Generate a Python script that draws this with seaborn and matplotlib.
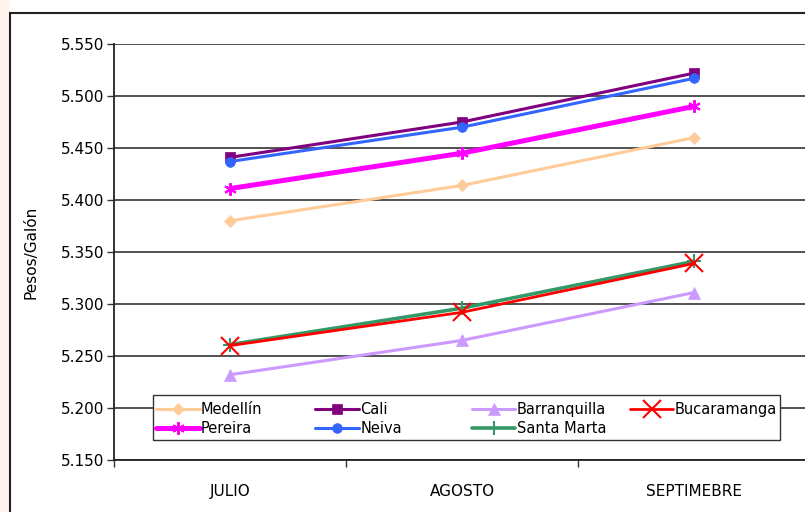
import matplotlib
matplotlib.use("Agg")
import matplotlib.pyplot as plt
import seaborn as sns
import pandas as pd
from matplotlib.ticker import FuncFormatter, MultipleLocator, FixedLocator
from matplotlib.patches import Rectangle
from matplotlib.legend import Legend

months = ["JULIO", "AGOSTO", "SEPTIMEBRE"]
medellin = [5380, 5414, 5460]
cali = [5441, 5475, 5522]
barranquilla = [5232, 5265, 5311]
bucaramanga = [5260, 5292, 5339]
pereira = [5411, 5445, 5490]
neiva = [5437, 5470, 5517]
santa_marta = [5261, 5296, 5341]

series = [
    ("Medellín", medellin, "#FFCC99", "D", 6, 2.2),
    ("Pereira", pereira, "#FF00FF", (6, 2, 0), 9, 3.6),
    ("Cali", cali, "#800080", "s", 7, 2.2),
    ("Neiva", neiva, "#3366FF", "o", 7, 2.2),
    ("Barranquilla", barranquilla, "#CC99FF", "^", 8, 2.2),
    ("Santa Marta", santa_marta, "#339966", "+", 10, 2.6),
    ("Bucaramanga", bucaramanga, "#FF0000", "x", 13, 2.0),
]
legend_columns = [["Medellín", "Pereira"], ["Cali", "Neiva"],
                  ["Barranquilla", "Santa Marta"], ["Bucaramanga"]]

sns.set_theme(style="white")
plt.rcParams["font.family"] = ["DejaVu Sans"]
plt.rcParams["text.color"] = "black"

fig = plt.figure(figsize=(8.05, 5.12), dpi=100)
fig.patch.set_facecolor("white")
# outer frame and left strip
fig.patches.append(Rectangle((0, 0), 10 / 805, 1, transform=fig.transFigure,
                             facecolor="#FFF5EE", edgecolor="none", zorder=-5))
fig.patches.append(Rectangle((10 / 805, -0.1), 1.2, 1 - 13 / 512 + 0.1, transform=fig.transFigure,
                             facecolor="white", edgecolor="#222222", linewidth=1.5, zorder=-4))

ax = fig.add_axes([114 / 805, 1 - 460 / 512, 696 / 805, 416 / 512])
ax.set_zorder(2)
ax.set_facecolor("white")

xpos = list(range(len(months)))
for name, vals, color, marker, ms, lw in series:
    df = pd.DataFrame({"x": xpos, "y": vals})
    sns.lineplot(data=df, x="x", y="y", ax=ax, color=color, marker=marker,
                 markersize=ms, linewidth=lw, label=name,
                 markeredgecolor=color, markeredgewidth=1.5 if marker in ("x", "+", (6, 2, 0)) else 0.5)

ax.set_xlim(-0.5, len(months) - 0.5)
ax.set_ylim(5150, 5550)
ax.yaxis.set_major_locator(MultipleLocator(50))
ax.yaxis.set_major_formatter(FuncFormatter(lambda v, p: f"{int(round(v)):,}".replace(",", ".")))
ax.grid(axis="y", color="#333333", linewidth=1.2)
ax.set_axisbelow(True)

ax.set_xticks(xpos)
ax.set_xticklabels(months)
ax.xaxis.set_minor_locator(FixedLocator([i - 0.5 for i in range(len(months) + 1)]))
ax.tick_params(axis="x", which="major", length=0, pad=17, labelsize=11, colors="black")
ax.tick_params(axis="x", which="minor", length=5, width=1, color="#333333", direction="out", bottom=True)
ax.tick_params(axis="y", which="major", length=5, width=1, color="#333333", direction="out",
               left=True, labelsize=11, colors="black", pad=2)

for s in ["top", "right"]:
    ax.spines[s].set_visible(False)
for s in ["left", "bottom"]:
    ax.spines[s].set_color("#222222")
    ax.spines[s].set_linewidth(1.3)

ax.set_xlabel("")
ax.set_ylabel("Pesos/Galón", fontsize=11, color="black", labelpad=16)

handles, labels = ax.get_legend_handles_labels()
hmap = dict(zip(labels, handles))
if ax.get_legend() is not None:
    ax.get_legend().remove()

# legend frame
ax.add_patch(Rectangle((0.056, 0.048), 0.901, 0.108, transform=ax.transAxes,
                       facecolor="white", edgecolor="#333333", linewidth=1.0, zorder=4,
                       clip_on=False))
col_x = [0.060, 0.289, 0.514, 0.741]
for cx, names in zip(col_x, legend_columns):
    lg = Legend(ax, [hmap[n] for n in names], names, loc="upper left",
                bbox_to_anchor=(cx, 0.140), bbox_transform=ax.transAxes,
                fontsize=10.5, frameon=False, handlelength=3.0, handletextpad=0.1,
                labelspacing=0.3, borderpad=0, borderaxespad=0, labelcolor="black")
    lg.set_zorder(5)
    ax.add_artist(lg)

fig.savefig("out.png", dpi=100, facecolor=fig.get_facecolor())
